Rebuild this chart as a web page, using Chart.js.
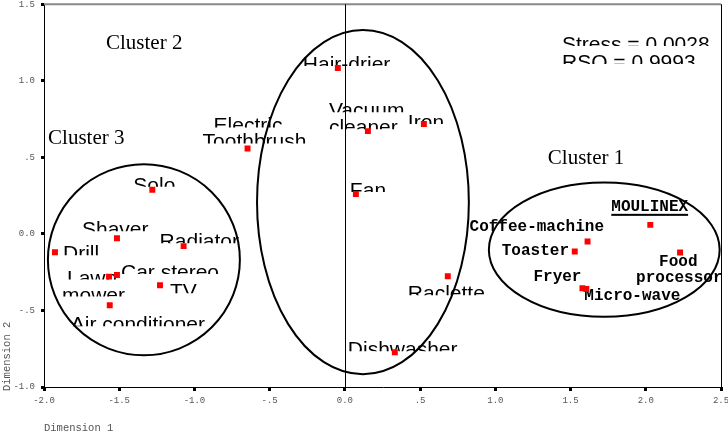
<!DOCTYPE html>
<html>
<head>
<meta charset="utf-8">
<script src="https://cdn.jsdelivr.net/npm/chart.js@4.4.1/dist/chart.umd.min.js"></script>
<style>
  html, body { margin: 0; padding: 0; background: #fff; }
  #wrap { width: 728px; height: 434px; }
</style>
</head>
<body>
<div id="wrap"><canvas id="mds"></canvas></div>
<script>
// appliances, coordinates on dimension 1 / dimension 2
const items = ['Hair-drier', 'Vacuum cleaner', 'Iron', 'Electric toothbrush', 'Fan', 'Raclette', 'Dishwasher',
  'Solo', 'Shaver', 'Radiator', 'Drill', 'Lawnmower', 'Car stereo', 'TV', 'Air conditioner',
  'MOULINEX', 'Coffee-machine', 'Toaster', 'Food processor', 'Fryer', 'Micro-wave'];
const dim1 = [-0.047, 0.153, 0.525, -0.647, 0.073, 0.684, 0.332,
  -1.28, -1.515, -1.072, -1.927, -1.568, -1.515, -1.229, -1.563,
  2.03, 1.613, 1.528, 2.228, 1.579, 1.605];
const dim2 = [1.083, 0.671, 0.717, 0.558, 0.26, -0.277, -0.773,
  0.288, -0.028, -0.08, -0.12, -0.279, -0.268, -0.335, -0.466,
  0.059, -0.05, -0.115, -0.122, -0.355, -0.36];

const xTicks = ['-2.0', '-1.5', '-1.0', '-.5', '0.0', '.5', '1.0', '1.5', '2.0', '2.5'];
const yTicks = ['-1.0', '-.5', '0.0', '.5', '1.0', '1.5'];

// cluster ellipses (data units)
const clusterNames = ['Cluster 1', 'Cluster 2', 'Cluster 3'];
const clusterCx = [1.724, 0.12, -1.336];
const clusterCy = [-0.103, 0.207, -0.169];
const clusterRx = [0.767, 0.704, 0.638];
const clusterRy = [0.438, 1.124, 0.624];
const clusterTextX = [1.349, -1.588, -1.973];
const clusterTextY = [0.456, 1.21, 0.586];

const fitLines = ['Stress = 0.0028', 'RSQ = 0.9993'];

// label layout: lines and pixel offsets from the point
const labelLines = [['Hair-drier'], ['Vacuum', 'cleaner'], ['Iron'], ['Electric', 'Toothbrush'], ['Fan'], ['Raclette'], ['Dishwasher'],
  ['Solo'], ['Shaver'], ['Radiator'], ['Drill'], ['Lawn', 'mower'], ['Car stereo'], ['TV'], ['Air conditioner'],
  ['MOULINEX'], ['Coffee-machine'], ['Toaster'], ['Food', 'processor'], ['Fryer'], ['Micro-wave']];
const labelOffsets = [[[-35, -12]], [[-39, -29], [-39, -12]], [[-16, -10]], [[-34, -31], [-45, -15]], [[-6, -12]], [[-40, 9]], [[-47, -11]],
  [[-19, -13]], [[-35, -17]], [[-24, -13]], [[8, -7]], [[-42, -7], [-47, 10]], [[4, -11]], [[10, -2]], [[-39, 11]],
  [[-39, -14]], [[-118, -11]], [[-73, 4]], [[-21, 13], [-44, 29]], [[-49, -7]], [[-2, 11]]];
const monoStart = 15;

const MONO = '"Courier New", "Liberation Mono", monospace';
const SANS = '"Liberation Sans", Arial, sans-serif';
const SERIF = '"Liberation Serif", "Times New Roman", serif';

function clippedText(ctx, text, x, capTop) {
  ctx.save();
  ctx.beginPath();
  ctx.rect(x - 4, capTop - 4, 400, 14);
  ctx.clip();
  ctx.fillText(text, x, capTop + 15);
  ctx.restore();
}

function noPad(s) {
  s.paddingLeft = 0; s.paddingRight = 0; s.paddingTop = 0; s.paddingBottom = 0;
}

const decorations = {
  id: 'decorations',
  beforeDatasetsDraw(chart) {
    const { ctx, chartArea: a, scales: { x, y } } = chart;
    ctx.save();
    // frame
    ctx.strokeStyle = '#888';
    ctx.lineWidth = 2;
    ctx.beginPath(); ctx.moveTo(a.left, a.top); ctx.lineTo(a.right, a.top); ctx.stroke();
    ctx.strokeStyle = '#000';
    ctx.lineWidth = 1;
    ctx.beginPath(); ctx.moveTo(a.right + 0.5, a.top); ctx.lineTo(a.right + 0.5, a.bottom); ctx.stroke();
    const x0 = Math.round(x.getPixelForValue(0)) + 0.5;
    ctx.beginPath(); ctx.moveTo(x0, a.top); ctx.lineTo(x0, a.bottom); ctx.stroke();

    // ellipses
    ctx.lineWidth = 2;
    for (let i = 0; i < clusterNames.length; i++) {
      const cx = x.getPixelForValue(clusterCx[i]);
      const cy = y.getPixelForValue(clusterCy[i]);
      const rx = x.getPixelForValue(clusterCx[i] + clusterRx[i]) - cx;
      const ry = cy - y.getPixelForValue(clusterCy[i] + clusterRy[i]);
      ctx.beginPath();
      ctx.ellipse(cx, cy, rx, ry, 0, 0, Math.PI * 2);
      ctx.stroke();
    }

    // cluster names
    ctx.fillStyle = '#000';
    ctx.font = '21px ' + SERIF;
    ctx.textBaseline = 'alphabetic';
    ctx.textAlign = 'left';
    clusterNames.forEach((n, i) => {
      ctx.fillText(n, x.getPixelForValue(clusterTextX[i]), y.getPixelForValue(clusterTextY[i]));
    });

    // point labels
    items.forEach((name, i) => {
      const px = x.getPixelForValue(dim1[i]);
      const py = y.getPixelForValue(dim2[i]);
      labelLines[i].forEach((line, j) => {
        const [dx, dy] = labelOffsets[i][j];
        if (i >= monoStart) {
          ctx.font = 'bold 16px ' + MONO;
          ctx.fillText(line, px + dx, py + dy);
          if (name === 'MOULINEX') {
            const w = ctx.measureText(line).width;
            ctx.fillRect(px + dx, py + dy + 3, w, 2);
          }
        } else {
          ctx.font = '21px ' + SANS;
          clippedText(ctx, line, px + dx, py + dy);
        }
      });
    });

    // fit statistics
    ctx.font = '21px ' + SANS;
    const sx = x.getPixelForValue(1.443);
    fitLines.forEach((t, i) => clippedText(ctx, t, sx, y.getPixelForValue(1.292) + i * 18));

    // axis titles
    ctx.fillStyle = '#555';
    ctx.font = '10.5px ' + MONO;
    ctx.textBaseline = 'middle';
    ctx.fillText('Dimension 1', a.left, 428);
    ctx.translate(7, a.bottom + 4);
    ctx.rotate(-Math.PI / 2);
    ctx.fillText('Dimension 2', 0, 0);
    ctx.restore();
  }
};

new Chart(document.getElementById('mds'), {
  type: 'scatter',
  data: {
    datasets: [{
      data: dim1.map((v, i) => ({ x: v, y: dim2[i] })),
      backgroundColor: '#ff0000',
      borderWidth: 0,
      pointStyle: 'rect',
      pointRadius: 4.2,
      pointHoverRadius: 4.2
    }]
  },
  options: {
    responsive: true,
    maintainAspectRatio: false,
    animation: false,
    layout: { padding: { left: 0, right: 7, top: 4, bottom: 0 } },
    plugins: { legend: { display: false }, tooltip: { enabled: false } },
    scales: {
      x: {
        type: 'linear', min: -2, max: 2.5,
        afterBuildTicks: s => { s.ticks = xTicks.map(t => ({ value: parseFloat(t) })); },
        afterFit: s => { s.height = 47; noPad(s); },
        ticks: {
          callback: (v, i) => xTicks[i],
          font: { family: MONO, size: 9 }, color: '#555', padding: 4, maxRotation: 0
        },
        grid: { drawOnChartArea: false, color: '#000', lineWidth: 3, tickLength: 4 },
        border: { color: '#000', width: 1 }
      },
      y: {
        type: 'linear', min: -1, max: 1.5,
        afterBuildTicks: s => { s.ticks = yTicks.map(t => ({ value: parseFloat(t) })); },
        afterFit: s => { s.width = 44; noPad(s); },
        ticks: {
          callback: (v, i) => yTicks[i],
          font: { family: MONO, size: 9 }, color: '#555', padding: 6
        },
        grid: { drawOnChartArea: false, color: '#000', lineWidth: 3, tickLength: 3 },
        border: { color: '#000', width: 1 }
      }
    }
  },
  plugins: [decorations]
});
</script>
</body>
</html>
